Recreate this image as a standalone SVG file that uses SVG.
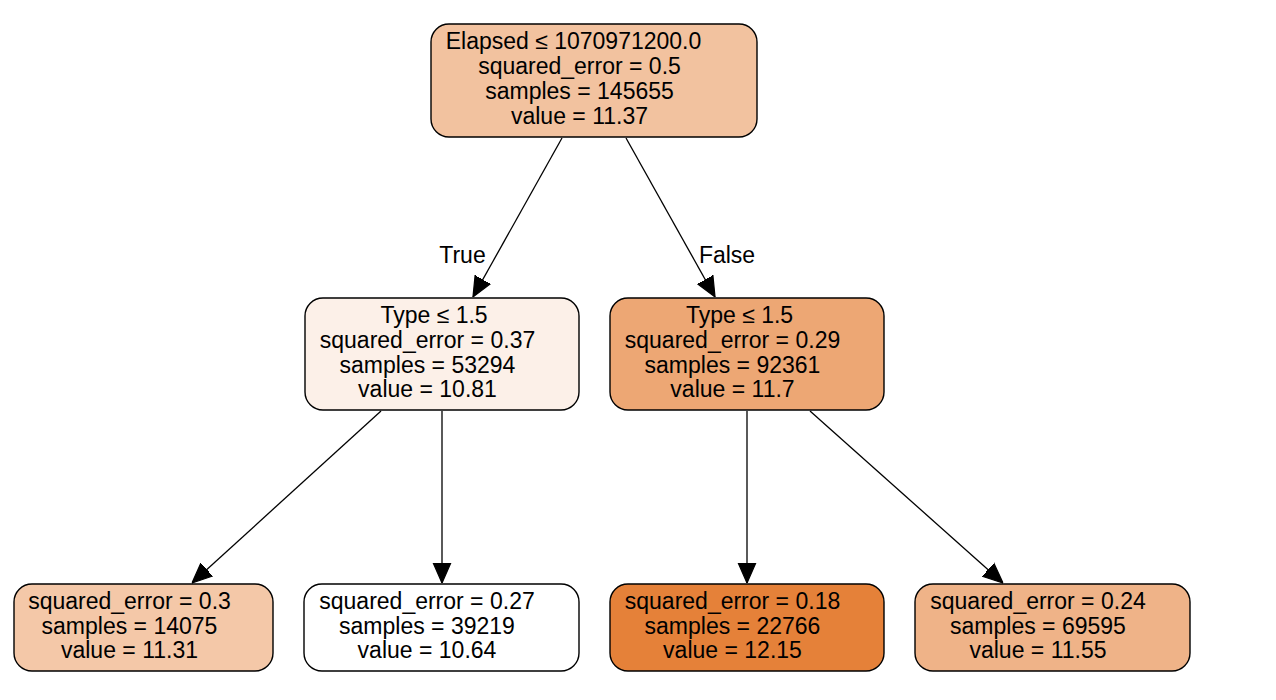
<svg xmlns="http://www.w3.org/2000/svg" width="1276" height="700" viewBox="0 0 1276 700">
<style>
.box{stroke:#000;stroke-width:1.4}
text{font-family:"Liberation Sans",Arial,sans-serif;font-size:23px;fill:#000;text-anchor:middle}
.edge{stroke:#000;stroke-width:1.3;fill:none;marker-end:url(#arr)}
</style>
<defs>
<marker id="arr" markerUnits="userSpaceOnUse" markerWidth="20" markerHeight="20" viewBox="0 0 16 14" refX="16" refY="7" orient="auto">
<path d="M0,0 L16,7 L0,14 Z" fill="#000" stroke="#000" stroke-width="1"/>
</marker>
</defs>
<rect width="1276" height="700" fill="#fff"/>
<g id="edges">
<line class="edge" x1="562" y1="138" x2="473" y2="297"/>
<line class="edge" x1="626" y1="138" x2="715" y2="297"/>
<line class="edge" x1="381" y1="411" x2="192" y2="583"/>
<line class="edge" x1="442" y1="411" x2="442" y2="583"/>
<line class="edge" x1="747" y1="411" x2="747" y2="583"/>
<line class="edge" x1="810" y1="411" x2="1003" y2="583"/>
<text x="462.5" y="263">True</text>
<text x="727" y="263">False</text>
</g>
<g id="n0">
<rect class="box" x="431" y="24" width="326" height="113" rx="18" fill="#f2c29f"/>
<text x="573.5" y="49">Elapsed ≤ 1070971200.0</text>
<text x="579.5" y="74">squared_error = 0.5</text>
<text x="579.5" y="98.5">samples = 145655</text>
<text x="579.5" y="123.5">value = 11.37</text>
</g>
<g id="n1">
<rect class="box" x="305" y="298" width="274" height="112" rx="18" fill="#fcf0e8"/>
<text x="434" y="323">Type ≤ 1.5</text>
<text x="427.5" y="348">squared_error = 0.37</text>
<text x="427.5" y="372.5">samples = 53294</text>
<text x="427.5" y="397">value = 10.81</text>
</g>
<g id="n4">
<rect class="box" x="610" y="298" width="274" height="112" rx="18" fill="#eda774"/>
<text x="739.5" y="323">Type ≤ 1.5</text>
<text x="732.5" y="348">squared_error = 0.29</text>
<text x="732.5" y="372.5">samples = 92361</text>
<text x="732.5" y="397">value = 11.7</text>
</g>
<g id="n2">
<rect class="box" x="14" y="584" width="259" height="87" rx="18" fill="#f4c8a8"/>
<text x="129.5" y="609">squared_error = 0.3</text>
<text x="129.5" y="633.5">samples = 14075</text>
<text x="129.5" y="658">value = 11.31</text>
</g>
<g id="n3">
<rect class="box" x="304" y="584" width="275" height="87" rx="18" fill="#ffffff"/>
<text x="427" y="609">squared_error = 0.27</text>
<text x="427" y="633.5">samples = 39219</text>
<text x="427" y="658">value = 10.64</text>
</g>
<g id="n5">
<rect class="box" x="610" y="584" width="274" height="87" rx="18" fill="#e58139"/>
<text x="732.5" y="609">squared_error = 0.18</text>
<text x="732.5" y="633.5">samples = 22766</text>
<text x="732.5" y="658">value = 12.15</text>
</g>
<g id="n6">
<rect class="box" x="915" y="584" width="275" height="87" rx="18" fill="#efb388"/>
<text x="1038" y="609">squared_error = 0.24</text>
<text x="1038" y="633.5">samples = 69595</text>
<text x="1038" y="658">value = 11.55</text>
</g>
</svg>
